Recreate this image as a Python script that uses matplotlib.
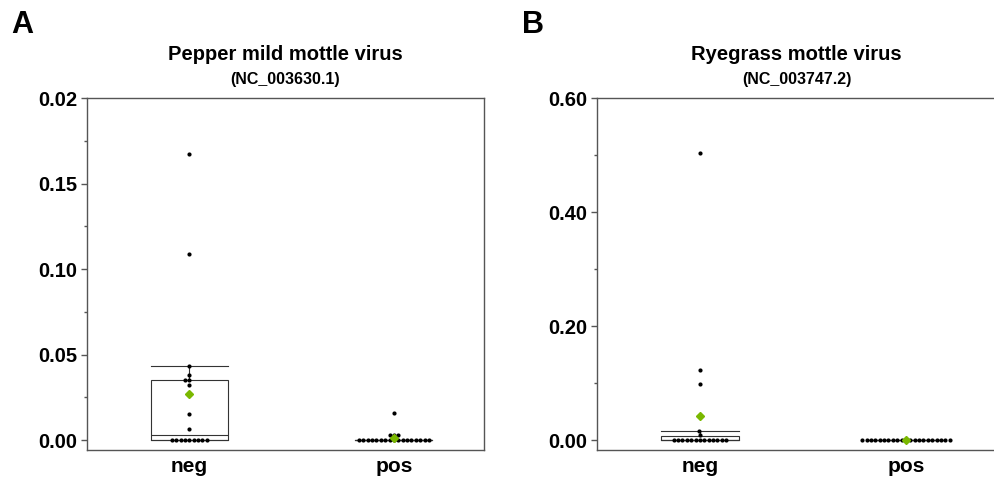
import numpy as np
import pandas as pd
import matplotlib
matplotlib.use("Agg")
import matplotlib.pyplot as plt
from matplotlib.ticker import MultipleLocator
import seaborn as sns

plt.rcParams['font.family'] = ['Liberation Sans', 'DejaVu Sans']
plt.rcParams['font.weight'] = 'bold'

groups = ['neg', 'pos']

# Panel A - Pepper mild mottle virus
a_neg = [0.0] * 9 + [0.0064, 0.0152, 0.032, 0.035, 0.035, 0.038, 0.043, 0.109, 0.167]
a_pos = [0.0] * 17 + [0.003, 0.003, 0.003, 0.0156]
a_ticks = [0.00, 0.05, 0.10, 0.15, 0.20]
a_ticklabels = ['0.00', '0.05', '0.10', '0.15', '0.02']

# Panel B - Ryegrass mottle virus
b_neg = [0.0] * 13 + [0.009, 0.016, 0.098, 0.123, 0.503]
b_pos = [0.0] * 21
b_ticks = [0.00, 0.20, 0.40, 0.60]
b_ticklabels = ['0.00', '0.20', '0.40', '0.60']

fig = plt.figure(figsize=(9.95, 4.84), dpi=100)
axA = fig.add_axes([0.0874, 0.0702, 0.399, 0.7273])
axB = fig.add_axes([0.600, 0.0702, 0.4015, 0.7273])

box_w = 0.376
green = '#7ab800'
edge = '#555555'


def panel(ax, neg, pos, ticks, ticklabels, ymin, minor, title, acc):
    df = pd.DataFrame({'grp': ['neg'] * len(neg) + ['pos'] * len(pos),
                       'val': neg + pos})
    ax.boxplot([neg, pos], positions=[0, 1], widths=box_w, capwidths=box_w,
               showfliers=False, showmeans=True, patch_artist=True,
               boxprops=dict(facecolor='white', edgecolor='#333333', linewidth=0.8),
               medianprops=dict(color='#333333', linewidth=0.8),
               whiskerprops=dict(color='#333333', linewidth=0.8),
               capprops=dict(color='#333333', linewidth=0.8),
               meanprops=dict(marker='D', markerfacecolor=green, markeredgecolor=green,
                              markersize=4.5, zorder=5))
    sns.swarmplot(data=df, x='grp', y='val', order=groups, ax=ax, color='black',
                  size=3.0, zorder=4)
    # put mean markers above the dots
    for ln in ax.lines:
        if ln.get_marker() == 'D':
            ln.set_zorder(6)
    ax.set_xlim(-0.5, 1.44)
    ax.set_ylim(ymin, ticks[-1])
    ax.set_xticks([0, 1])
    ax.set_xticklabels(groups, fontsize=15, fontweight='bold')
    ax.set_yticks(ticks)
    ax.set_yticklabels(ticklabels, fontsize=14.5, fontweight='bold')
    ax.yaxis.set_minor_locator(MultipleLocator(minor))
    ax.tick_params(axis='x', length=0, pad=5)
    ax.tick_params(axis='y', which='major', length=4, width=1, color=edge, pad=3)
    ax.tick_params(axis='y', which='minor', length=2, width=1, color=edge)
    ax.set_xlabel('')
    ax.set_ylabel('')
    for sp in ax.spines.values():
        sp.set_color(edge)
        sp.set_linewidth(1)
    ax.text(0.5, 1.125, title, transform=ax.transAxes, ha='center', va='center',
            fontsize=14.5, fontweight='bold')
    ax.text(0.5, 1.052, acc, transform=ax.transAxes, ha='center', va='center',
            fontsize=11.5, fontweight='bold')


panel(axA, a_neg, a_pos, a_ticks, a_ticklabels, -0.00585, 0.025,
      'Pepper mild mottle virus', '(NC_003630.1)')
panel(axB, b_neg, b_pos, b_ticks, b_ticklabels, -0.0175, 0.1,
      'Ryegrass mottle virus', '(NC_003747.2)')

fig.text(0.011, 0.948, 'A', fontsize=22, fontweight='bold', va='center')
fig.text(0.525, 0.948, 'B', fontsize=22, fontweight='bold', va='center')

fig.savefig('out.png', dpi=100)
